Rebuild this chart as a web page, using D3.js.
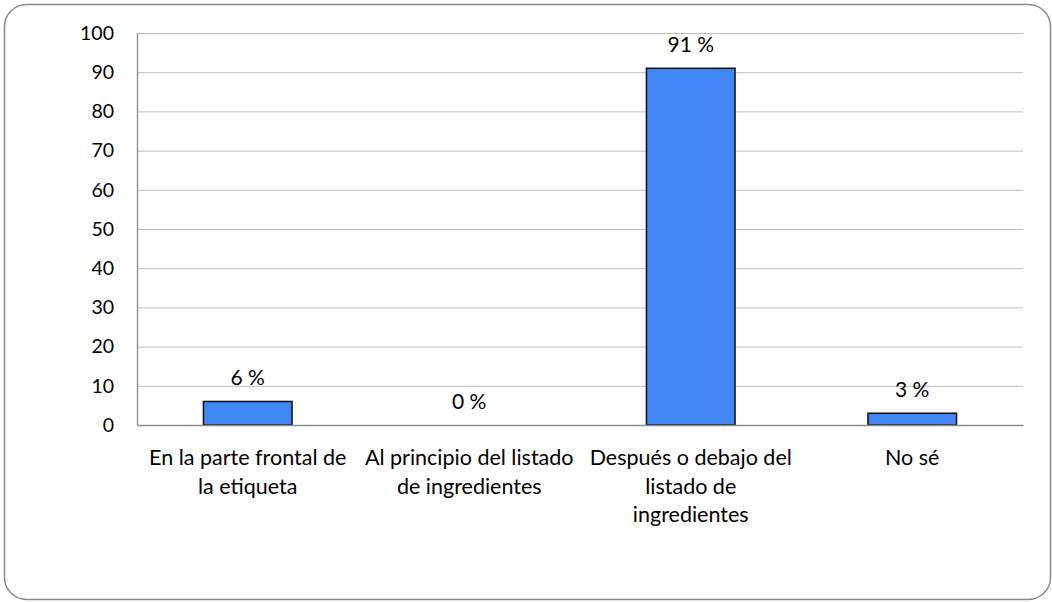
<!DOCTYPE html>
<html><head><meta charset="utf-8">
<script src="https://cdn.jsdelivr.net/npm/d3@7"></script>
<style>body{margin:0;background:#fff}svg{display:block}text{font-family:Lato,"Open Sans",sans-serif;fill:#000}</style>
</head><body><svg id="c" width="1052" height="602"></svg>
<script>
const categories = [
  ["En la parte frontal de", "la etiqueta"],
  ["Al principio del listado", "de ingredientes"],
  ["Después o debajo del", "listado de", "ingredientes"],
  ["No sé"]
];
const values = [6, 0, 91, 3];
const valueLabels = ["6 %", "0 %", "91 %", "3 %"];
const yTicks = [0, 10, 20, 30, 40, 50, 60, 70, 80, 90, 100];

const svg = d3.select("#c");
svg.append("rect").attr("x", 4.5).attr("y", 4.5).attr("width", 1046).attr("height", 595)
  .attr("rx", 22).attr("fill", "#fff").attr("stroke", "#8a8a8a").attr("stroke-width", 1.5);

const m = {l: 137, r: 1023, t: 33, b: 425};
const x = d3.scaleBand().domain(d3.range(values.length)).range([m.l, m.r]).paddingInner(0.6).paddingOuter(0.3);
const y = d3.scaleLinear().domain([0, 100]).range([m.b, m.t]);

// gridlines
svg.append("g").selectAll("line").data(yTicks.filter(d => d > 0)).join("line")
  .attr("x1", m.l).attr("x2", m.r).attr("y1", d => y(d) + 0.5).attr("y2", d => y(d) + 0.5)
  .attr("stroke", "#bfbfbf").attr("stroke-width", 1);

// y axis
const ya = svg.append("g").attr("transform", `translate(${m.l},0)`)
  .call(d3.axisLeft(y).tickValues(yTicks).tickSize(0).tickPadding(23));
ya.select(".domain").attr("stroke", "#8c8c8c").attr("stroke-width", 1.3);
ya.selectAll("text").attr("font-size", 19.5).attr("font-family", "Lato,'Open Sans',sans-serif").attr("fill", "#000");

// bars
svg.append("g").selectAll("rect").data(values).join("rect")
  .attr("x", (d, i) => x(i)).attr("width", x.bandwidth())
  .attr("y", d => y(d)).attr("height", d => y(0) - y(d))
  .attr("fill", "#4285f4").attr("stroke", "#111").attr("stroke-width", 1.5)
  .attr("display", d => d > 0 ? null : "none");

// x axis
const xa = svg.append("g").attr("transform", `translate(0,${m.b})`)
  .call(d3.axisBottom(x).tickSize(0).tickFormat(""));
xa.select(".domain").attr("stroke", "#8c8c8c").attr("stroke-width", 1.3);

// category labels
const cl = svg.append("g");
categories.forEach((lines, i) => {
  const cx = x(i) + x.bandwidth() / 2;
  const t = cl.append("text").attr("text-anchor", "middle").attr("font-size", 21.5)
    .attr("x", cx).attr("y", 465);
  lines.forEach((ln, j) => t.append("tspan").attr("x", cx).attr("dy", j ? 28.5 : 0).text(ln));
});

// value labels
svg.append("g").selectAll("text").data(values).join("text")
  .attr("text-anchor", "middle").attr("font-size", 21)
  .attr("x", (d, i) => x(i) + x.bandwidth() / 2)
  .attr("y", d => y(d) - 16)
  .text((d, i) => valueLabels[i]);
</script></body></html>
